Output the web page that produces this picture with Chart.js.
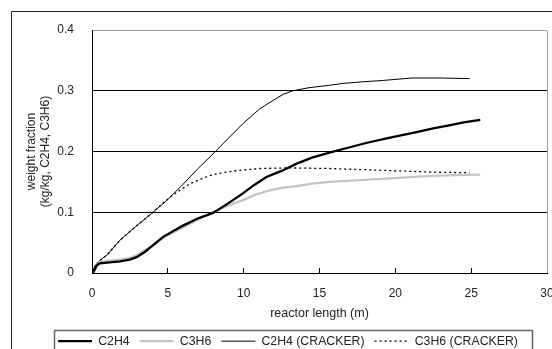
<!DOCTYPE html>
<html>
<head>
<meta charset="utf-8">
<script src="https://cdn.jsdelivr.net/npm/chart.js@4.4.0/dist/chart.umd.min.js"></script>
<style>
html, body { margin: 0; padding: 0; background: #fff; }
#wrap { width: 552px; height: 349px; }
</style>
</head>
<body>
<div id="wrap"><canvas id="grafico" width="552" height="349"></canvas></div>
<script>
// comprimento do reator (m) x fração mássica
const c2h4X = [0.05, 0.3, 0.5, 1, 1.84, 2.5, 2.94, 3.5, 4.69, 6, 7, 7.98, 9, 9.95, 10.7, 11.5, 12.5, 13.5, 14.5, 15.66, 17, 18.07, 19.5, 21.4, 22.5, 23.55, 24.5, 25.6];
const c2h4Y = [0, 0.012, 0.016, 0.017, 0.019, 0.022, 0.026, 0.035, 0.0595, 0.078, 0.09, 0.099, 0.115, 0.131, 0.145, 0.158, 0.168, 0.18, 0.19, 0.198, 0.207, 0.214, 0.222, 0.232, 0.238, 0.243, 0.248, 0.252];

const c3h6X = [0.1, 0.3, 0.5, 1, 1.84, 2.5, 3, 4, 4.69, 6, 7, 8, 9, 9.95, 10.8, 11.7, 12.5, 13.47, 14.5, 15.66, 17, 19.1, 20.5, 22.4, 24, 25.6];
const c3h6Y = [0, 0.01, 0.018, 0.02, 0.022, 0.025, 0.03, 0.045, 0.058, 0.075, 0.088, 0.1, 0.111, 0.12, 0.129, 0.136, 0.14, 0.143, 0.147, 0.15, 0.152, 0.155, 0.157, 0.16, 0.161, 0.162];

const c2h4CrackerX = [0, 0.2, 0.53, 1, 1.84, 3, 3.93, 5, 6, 7, 7.98, 9, 10, 11.05, 11.93, 12.6, 13.25, 14.3, 15.66, 16.5, 18, 19.2, 21.1, 23, 24.9];
const c2h4CrackerY = [0, 0.012, 0.021, 0.03, 0.054, 0.079, 0.098, 0.121, 0.146, 0.172, 0.196, 0.222, 0.247, 0.27, 0.284, 0.294, 0.3, 0.305, 0.309, 0.312, 0.315, 0.317, 0.321, 0.321, 0.32];

const c3h6CrackerX = [0, 0.5, 1, 1.84, 3, 3.93, 4.9, 5.6, 6.45, 7.2, 7.98, 8.8, 9.74, 11.05, 13, 15.66, 18, 20.3, 22.5, 24.9];
const c3h6CrackerY = [0, 0.02, 0.03, 0.054, 0.079, 0.098, 0.12, 0.133, 0.147, 0.155, 0.162, 0.166, 0.169, 0.172, 0.173, 0.172, 0.17, 0.168, 0.166, 0.165];

const xTicks = [0, 5, 10, 15, 20, 25, 30];
const yTicks = [0, 0.1, 0.2, 0.3, 0.4];
const yTitulo = ['weight fraction', '(kg/kg, C2H4, C3H6)'];

function pontos(xs, ys) {
    return xs.map((x, i) => ({ x: x, y: ys[i] }));
}

const fonte = "'Liberation Sans', Arial, sans-serif";
const corTexto = '#222';

// moldura externa, borda do gráfico, título do eixo y e caixa da legenda
const moldura = {
    id: 'moldura',
    beforeDraw(chart) {
        const c = chart.ctx;
        c.save();
        c.fillStyle = '#fff';
        c.fillRect(0, 0, chart.width, chart.height);
        c.strokeStyle = '#222';
        c.lineWidth = 1;
        c.beginPath();
        c.moveTo(11.5, chart.height);
        c.lineTo(11.5, 11.5);
        c.lineTo(chart.width, 11.5);
        c.stroke();
        c.restore();
    },
    afterDraw(chart) {
        const c = chart.ctx;
        const a = chart.chartArea;
        c.save();
        c.strokeStyle = '#a0a0a0';
        c.lineWidth = 1;
        c.beginPath();
        c.moveTo(Math.round(a.right) + 0.5, Math.round(a.top) + 0.5);
        c.lineTo(Math.round(a.right) + 0.5, Math.round(a.bottom));
        c.stroke();

        // título do eixo y em duas linhas
        c.save();
        c.translate(a.left - 60, (a.top + a.bottom) / 2);
        c.rotate(-Math.PI / 2);
        c.fillStyle = corTexto;
        c.font = '12px ' + fonte;
        c.textAlign = 'center';
        c.textBaseline = 'middle';
        yTitulo.forEach((linha, i) => c.fillText(linha, 0, i * 13.5));
        c.restore();

        const boxes = chart.legend.legendHitBoxes;
        if (boxes && boxes.length) {
            const first = boxes[0];
            const last = boxes[boxes.length - 1];
            const l = Math.round(first.left) - 3.5;
            const r = Math.round(last.left + last.width) + 14.5;
            const t = Math.round(first.top) - 4.5;
            c.strokeStyle = '#666';
            c.lineWidth = 1.5;
            c.beginPath();
            c.moveTo(l, chart.height);
            c.lineTo(l, t);
            c.lineTo(r, t);
            c.lineTo(r, chart.height);
            c.stroke();
        }
        c.restore();
    }
};

new Chart(document.getElementById('grafico').getContext('2d'), {
    type: 'line',
    data: {
        datasets: [
            {
                label: 'C2H4',
                data: pontos(c2h4X, c2h4Y),
                borderColor: '#000',
                borderWidth: 2.3
            },
            {
                label: 'C3H6',
                data: pontos(c3h6X, c3h6Y),
                borderColor: '#c4c4c4',
                borderWidth: 2.3
            },
            {
                label: 'C2H4 (CRACKER)',
                data: pontos(c2h4CrackerX, c2h4CrackerY),
                borderColor: '#000',
                borderWidth: 1
            },
            {
                label: 'C3H6 (CRACKER)',
                data: pontos(c3h6CrackerX, c3h6CrackerY),
                borderColor: '#000',
                borderWidth: 1.3,
                borderDash: [2, 3]
            }
        ]
    },
    options: {
        responsive: false,
        animation: false,
        devicePixelRatio: 1,
        elements: {
            point: { radius: 0 },
            line: { tension: 0, fill: false }
        },
        layout: { padding: { left: 29, top: 30, right: 5, bottom: -8.3 } },
        plugins: {
            tooltip: { enabled: false },
            legend: {
                position: 'bottom',
                labels: {
                    usePointStyle: true,
                    pointStyle: 'line',
                    pointStyleWidth: 34,
                    padding: 10,
                    color: corTexto,
                    font: { family: fonte, size: 12.3 },
                    // estilo da linha vem do dataset (traço pontilhado incluso)
                    generateLabels: chart => chart.data.datasets.map((ds, i) => ({
                        text: ds.label,
                        datasetIndex: i,
                        hidden: false,
                        pointStyle: 'line',
                        fillStyle: ds.borderColor,
                        strokeStyle: ds.borderColor,
                        lineWidth: ds.borderWidth,
                        lineDash: ds.borderDash || [],
                        fontColor: corTexto
                    }))
                }
            }
        },
        scales: {
            x: {
                type: 'linear',
                min: 0,
                max: 30,
                afterBuildTicks: s => { s.ticks = xTicks.map(v => ({ value: v })); },
                afterFit: s => { s.height = 52; s.paddingLeft = 0; s.paddingRight = 0; },
                ticks: {
                    color: corTexto,
                    padding: 18,
                    maxRotation: 0,
                    font: { family: fonte, size: 12 }
                },
                grid: {
                    drawOnChartArea: false,
                    drawTicks: true,
                    tickLength: -5,
                    color: '#000'
                },
                border: { color: '#000', width: 1 },
                title: {
                    display: true,
                    text: 'reactor length (m)',
                    color: corTexto,
                    padding: { top: 0, bottom: 4 },
                    font: { family: fonte, size: 12.5 }
                }
            },
            y: {
                type: 'linear',
                min: 0,
                max: 0.4,
                afterBuildTicks: s => { s.ticks = yTicks.map(v => ({ value: v })); },
                afterFit: s => { s.width = 63; },
                ticks: {
                    color: corTexto,
                    padding: 18,
                    font: { family: fonte, size: 12 }
                },
                grid: {
                    drawTicks: false,
                    color: c => (c.tick && c.tick.value === 0.4) ? '#a0a0a0' : '#000'
                },
                border: { color: '#000', width: 1 }
            }
        }
    },
    plugins: [moldura]
});
</script>
</body>
</html>
